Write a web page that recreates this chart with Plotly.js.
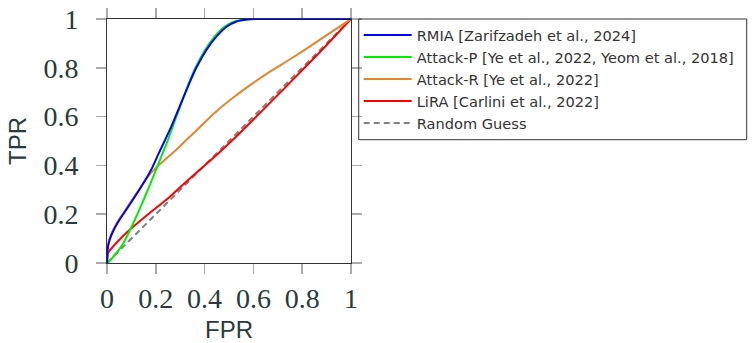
<!DOCTYPE html>
<html>
<head>
<meta charset="utf-8">
<script src="https://cdn.plot.ly/plotly-3.0.1.min.js"></script>
<style>html,body{margin:0;padding:0;background:#fff;}#chart{width:754px;height:343px;}</style>
</head>
<body>
<div id="chart"></div>
<script>
// ---- data ----
const seriesNames = ["RMIA [Zarifzadeh et al., 2024]", "Attack-P [Ye et al., 2022, Yeom et al., 2018]", "Attack-R [Ye et al., 2022]", "LiRA [Carlini et al., 2022]", "Random Guess"];

const rmiaFPR = [0, 0.003, 0.011, 0.025, 0.045, 0.07, 0.10, 0.13, 0.16, 0.185, 0.21, 0.236, 0.262, 0.298, 0.332, 0.367, 0.408, 0.449, 0.49, 0.531, 0.585, 0.65, 0.8, 1];
const rmiaTPR = [0, 0.06, 0.096, 0.13, 0.167, 0.205, 0.25, 0.296, 0.345, 0.39, 0.445, 0.5, 0.556, 0.642, 0.724, 0.802, 0.874, 0.929, 0.968, 0.99, 0.999, 1, 1, 1];

const attPFPR = [0, 0.015, 0.032, 0.05, 0.067, 0.093, 0.134, 0.175, 0.202, 0.23, 0.25, 0.27, 0.29, 0.325, 0.36, 0.40, 0.44, 0.48, 0.52, 0.575, 0.65, 0.8, 1];
const attPTPR = [0, 0.012, 0.034, 0.056, 0.082, 0.132, 0.222, 0.318, 0.385, 0.455, 0.505, 0.56, 0.615, 0.71, 0.795, 0.87, 0.927, 0.967, 0.989, 0.999, 1, 1, 1];

const attRFPR = [0, 0.003, 0.011, 0.025, 0.045, 0.07, 0.10, 0.13, 0.161, 0.20, 0.243, 0.285, 0.326, 0.367, 0.435, 0.503, 0.585, 0.668, 0.75, 0.832, 0.914, 1];
const attRTPR = [0, 0.065, 0.1, 0.135, 0.172, 0.21, 0.255, 0.3, 0.345, 0.39, 0.428, 0.465, 0.505, 0.544, 0.61, 0.667, 0.728, 0.784, 0.835, 0.888, 0.943, 1];

const liraFPR = [0, 0.002, 0.004, 0.038, 0.093, 0.175, 0.243, 0.311, 0.38, 0.448, 0.516, 0.598, 0.735, 0.872, 1];
const liraTPR = [0, 0.025, 0.041, 0.082, 0.136, 0.205, 0.259, 0.321, 0.382, 0.442, 0.505, 0.586, 0.724, 0.864, 1];

const randFPR = [0, 1];
const randTPR = [0, 1];

const tickVals = [0, 0.2, 0.4, 0.6, 0.8, 1];
const tickLabels = ["0", "0.2", "0.4", "0.6", "0.8", "1"];

// ---- chart ----
function curve(x, y, name, color, dash) {
  return {
    type: 'scatter', mode: 'lines', x: x, y: y, name: name,
    line: {color: color, width: 2, dash: dash || 'solid', shape: 'spline', smoothing: 0.6}
  };
}
// drawn bottom-to-top; legend shown reversed so RMIA is listed first
const traces = [
  curve(randFPR, randTPR, seriesNames[4], '#808080', '6px,4px'),
  curve(liraFPR, liraTPR, seriesNames[3], '#ff0000'),
  curve(attRFPR, attRTPR, seriesNames[2], '#e5862d'),
  curve(attPFPR, attPTPR, seriesNames[1], '#00ee00'),
  curve(rmiaFPR, rmiaTPR, seriesNames[0], '#0000ff')
];

const tickFont = {family: 'Liberation Serif, serif', size: 28, color: '#2b3a3a'};
const titleFont = {family: 'Liberation Sans, Arial, sans-serif', size: 24, color: '#2b3a3a'};

const axisBase = {
  range: [0, 1], tickvals: tickVals, ticktext: tickLabels,
  ticks: 'outside', ticklen: 10, tickwidth: 1.5, tickcolor: '#aaaaaa',
  showline: true, linecolor: '#333333', linewidth: 1, mirror: 'ticks',
  showgrid: false, zeroline: false, tickfont: tickFont, fixedrange: true
};

const layout = {
  width: 754, height: 343,
  margin: {l: 107, r: 403, t: 19, b: 80, pad: 0},
  paper_bgcolor: '#ffffff', plot_bgcolor: '#ffffff',
  showlegend: true,
  xaxis: Object.assign({}, axisBase, {title: {text: 'FPR', font: titleFont, standoff: 34}, ticklabelstandoff: 0}),
  yaxis: Object.assign({}, axisBase, {title: {text: 'TPR', font: titleFont, standoff: 10}, ticklabelstandoff: 12}),
  legend: {
    x: 1.0316, xanchor: 'left', y: 1, yanchor: 'top',
    bgcolor: 'rgba(0,0,0,0)', borderwidth: 0, traceorder: 'reversed',
    font: {family: 'DejaVu Sans, sans-serif', size: 14.6, color: '#333333'},
    itemwidth: 48, tracegroupgap: 0
  },
  shapes: [{
    type: 'rect', xref: 'paper', yref: 'paper',
    x0: 1.0316, x1: 2.6217, y0: 0.5053, y1: 1,
    line: {color: '#333333', width: 1}, fillcolor: 'rgba(0,0,0,0)'
  }]
};

Plotly.newPlot('chart', traces, layout, {staticPlot: true, displayModeBar: false});
</script>
</body>
</html>
